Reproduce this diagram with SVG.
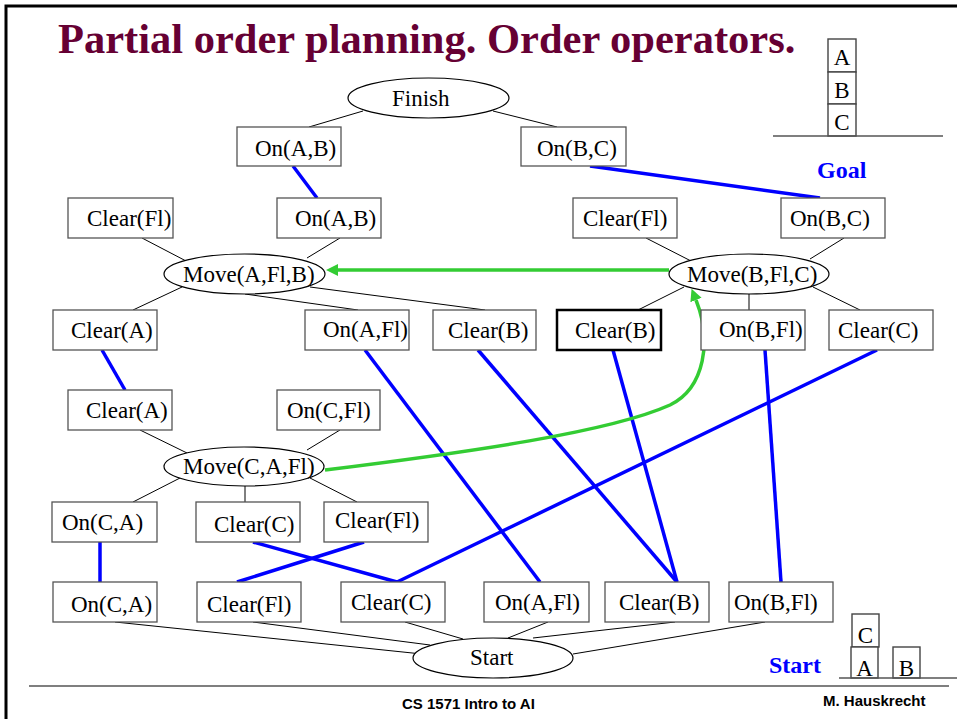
<svg xmlns="http://www.w3.org/2000/svg" width="957" height="719" viewBox="0 0 957 719">
<style>
.box{fill:#fff;stroke:#555;stroke-width:1.3}
.bold{fill:#fff;stroke:#000;stroke-width:2.5}
.ell{fill:#fff;stroke:#000;stroke-width:1.2}
.blk{fill:#fff;stroke:#444;stroke-width:1.4}
.t{font-family:"Liberation Serif","Times New Roman",serif;font-size:23px;fill:#000}
.thin line{stroke:#000;stroke-width:1}
.blue line{stroke:#0000ff;stroke-width:3.5}
.green{stroke:#33cc33;stroke-width:3.5;fill:none}
.lbl{font-family:"Liberation Serif","Times New Roman",serif;font-size:24px;font-weight:bold;fill:#0000ff}
.foot{font-family:"Liberation Sans",Arial,sans-serif;font-size:15px;font-weight:bold;fill:#000}
</style>
<defs>
<marker id="ah" markerUnits="userSpaceOnUse" markerWidth="14" markerHeight="14" refX="0" refY="6" orient="auto">
<path d="M0,0 L12,6 L0,12 z" fill="#33cc33"/>
</marker>
</defs>
<rect width="957" height="719" fill="#fff"/>
<path d="M6,719 V6 H957" fill="none" stroke="#000" stroke-width="3"/>
<text x="58" y="53" font-family="Liberation Serif,'Times New Roman',serif" font-size="42.5" font-weight="bold" fill="#660033">Partial order planning. Order operators.</text>

<g id="connectors">
<g class="thin">
<line x1="363" y1="111" x2="309" y2="127"/>
<line x1="493" y1="111" x2="557" y2="127"/>
<line x1="142" y1="238" x2="188" y2="262"/>
<line x1="340" y1="238" x2="307" y2="258"/>
<line x1="182" y1="287" x2="133" y2="310"/>
<line x1="245" y1="294" x2="358" y2="310"/>
<line x1="310" y1="287" x2="485" y2="310"/>
<line x1="646" y1="238" x2="693" y2="262"/>
<line x1="844" y1="238" x2="810" y2="259"/>
<line x1="684" y1="287" x2="638" y2="310"/>
<line x1="749" y1="294" x2="749" y2="310"/>
<line x1="813" y1="287" x2="860" y2="310"/>
<line x1="140" y1="430" x2="187" y2="453"/>
<line x1="340" y1="430" x2="307" y2="450"/>
<line x1="180" y1="478" x2="133" y2="502"/>
<line x1="245" y1="486" x2="245" y2="502"/>
<line x1="310" y1="478" x2="357" y2="502"/>
<line x1="115" y1="622" x2="422" y2="654"/>
<line x1="253" y1="622" x2="430" y2="645"/>
<line x1="405" y1="622" x2="463" y2="639"/>
<line x1="548" y1="622" x2="508" y2="638"/>
<line x1="675" y1="622" x2="533" y2="638"/>
<line x1="765" y1="622" x2="573" y2="654"/>
</g>
<g class="blue">
<line x1="293" y1="166" x2="317" y2="198"/>
<line x1="590" y1="166" x2="820" y2="198"/>
<line x1="102" y1="350" x2="125" y2="390"/>
<line x1="100" y1="542" x2="100" y2="582"/>
<line x1="253" y1="542" x2="397" y2="582"/>
<line x1="364" y1="542" x2="237" y2="582"/>
<line x1="877" y1="350" x2="397" y2="582"/>
<line x1="365" y1="350" x2="540" y2="582"/>
<line x1="478" y1="350" x2="677" y2="582"/>
<line x1="613" y1="350" x2="677" y2="582"/>
<line x1="765" y1="350" x2="781" y2="582"/>
</g>
<path class="green" d="M669,270 H338" marker-end="url(#ah)"/>
<path class="green" d="M325,470 C470,452 610,432 670,405 C705,388 712,340 696,300" marker-end="url(#ah)"/>
</g>

<g id="finish"><ellipse class="ell" cx="428.5" cy="98" rx="80.5" ry="20"/><text class="t" x="392" y="106">Finish</text></g>
<g id="g-onAB"><rect class="box" x="237" y="127" width="104" height="39"/><text class="t" x="255" y="156">On(A,B)</text></g>
<g id="g-onBC"><rect class="box" x="521" y="127" width="105" height="39"/><text class="t" x="537" y="156">On(B,C)</text></g>

<g id="goal-state">
<rect class="blk" x="828" y="39" width="28" height="33"/><text class="t" x="842" y="65" text-anchor="middle">A</text>
<rect class="blk" x="828" y="72" width="28" height="32"/><text class="t" x="842" y="98" text-anchor="middle">B</text>
<rect class="blk" x="828" y="104" width="28" height="32"/><text class="t" x="842" y="130" text-anchor="middle">C</text>
<line x1="773" y1="136" x2="943" y2="136" stroke="#555" stroke-width="1.4"/>
<text class="lbl" x="817" y="178">Goal</text>
</g>

<g id="p1-clearFl"><rect class="box" x="68" y="198" width="105" height="40"/><text class="t" x="87" y="226">Clear(Fl)</text></g>
<g id="p1-onAB"><rect class="box" x="277" y="198" width="104" height="40"/><text class="t" x="295" y="226">On(A,B)</text></g>
<g id="p2-clearFl"><rect class="box" x="573" y="198" width="104" height="40"/><text class="t" x="583" y="226">Clear(Fl)</text></g>
<g id="p2-onBC"><rect class="box" x="781" y="198" width="104" height="40"/><text class="t" x="790" y="226">On(B,C)</text></g>

<g id="move-AFlB"><ellipse class="ell" cx="244.5" cy="274" rx="80.5" ry="20"/><text class="t" x="183" y="282">Move(A,Fl,B)</text></g>
<g id="move-BFlC"><ellipse class="ell" cx="749" cy="274" rx="80" ry="20"/><text class="t" x="687" y="282">Move(B,Fl,C)</text></g>

<g id="p3-clearA"><rect class="box" x="53" y="310" width="104" height="40"/><text class="t" x="71" y="338">Clear(A)</text></g>
<g id="p3-onAFl"><rect class="box" x="305" y="310" width="104" height="40"/><text class="t" x="323" y="337">On(A,Fl)</text></g>
<g id="p3-clearB"><rect class="box" x="433" y="310" width="103" height="40"/><text class="t" x="448" y="338">Clear(B)</text></g>
<g id="p4-clearB"><rect class="bold" x="557" y="310" width="104" height="40"/><text class="t" x="575" y="338">Clear(B)</text></g>
<g id="p4-onBFl"><rect class="box" x="701" y="310" width="104" height="40"/><text class="t" x="719" y="337">On(B,Fl)</text></g>
<g id="p4-clearC"><rect class="box" x="829" y="310" width="104" height="40"/><text class="t" x="838" y="338">Clear(C)</text></g>

<g id="p5-clearA"><rect class="box" x="68" y="390" width="104" height="40"/><text class="t" x="86" y="418">Clear(A)</text></g>
<g id="p5-onCFl"><rect class="box" x="277" y="390" width="103" height="40"/><text class="t" x="287" y="418">On(C,Fl)</text></g>
<g id="move-CAFl"><ellipse class="ell" cx="244" cy="466.5" rx="80" ry="19.5"/><text class="t" x="183" y="474">Move(C,A,Fl)</text></g>

<g id="p6-onCA"><rect class="box" x="52" y="502" width="105" height="40"/><text class="t" x="62" y="530">On(C,A)</text></g>
<g id="p6-clearC"><rect class="box" x="196" y="502" width="104" height="40"/><text class="t" x="214" y="532">Clear(C)</text></g>
<g id="p6-clearFl"><rect class="box" x="324" y="502" width="104" height="40"/><text class="t" x="335" y="528">Clear(Fl)</text></g>

<g id="s-onCA"><rect class="box" x="53" y="582" width="104" height="40"/><text class="t" x="71" y="612">On(C,A)</text></g>
<g id="s-clearFl"><rect class="box" x="197" y="582" width="104" height="40"/><text class="t" x="207" y="612">Clear(Fl)</text></g>
<g id="s-clearC"><rect class="box" x="341" y="582" width="104" height="40"/><text class="t" x="351" y="610">Clear(C)</text></g>
<g id="s-onAFl"><rect class="box" x="484" y="582" width="105" height="40"/><text class="t" x="495" y="610">On(A,Fl)</text></g>
<g id="s-clearB"><rect class="box" x="605" y="582" width="104" height="40"/><text class="t" x="619" y="610">Clear(B)</text></g>
<g id="s-onBFl"><rect class="box" x="729" y="582" width="104" height="40"/><text class="t" x="734" y="610">On(B,Fl)</text></g>
<g id="start"><ellipse class="ell" cx="493" cy="658" rx="80" ry="20"/><text class="t" x="470" y="665">Start</text></g>

<g id="start-state">
<rect class="blk" x="852" y="614" width="27" height="33"/><text class="t" x="865.5" y="643" text-anchor="middle">C</text>
<rect class="blk" x="851" y="647" width="27" height="31"/><text class="t" x="864.5" y="676" text-anchor="middle">A</text>
<rect class="blk" x="893" y="647" width="27" height="31"/><text class="t" x="906.5" y="676" text-anchor="middle">B</text>
<line x1="839" y1="678" x2="957" y2="678" stroke="#555" stroke-width="1.4"/>
<text class="lbl" x="769" y="673">Start</text>
</g>

<line x1="29" y1="686" x2="949" y2="686" stroke="#000" stroke-width="1.2"/>
<text class="foot" x="402" y="709">CS 1571 Intro to AI</text>
<text class="foot" x="823" y="706">M. Hauskrecht</text>
</svg>
